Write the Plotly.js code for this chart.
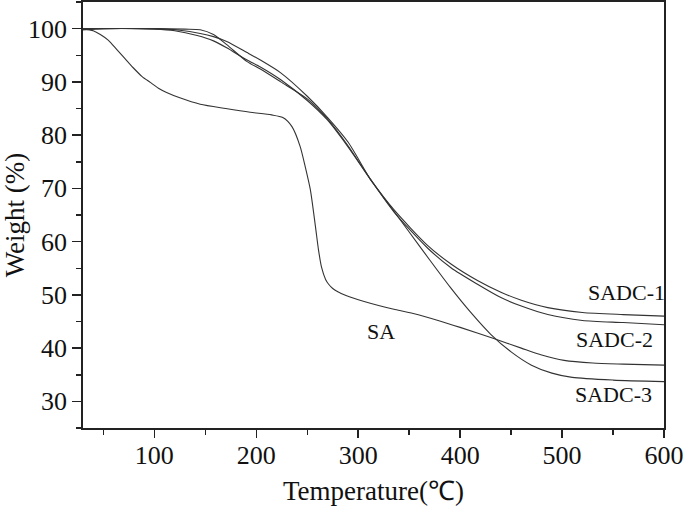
<!DOCTYPE html>
<html>
<head>
<meta charset="utf-8">
<script src="https://cdn.plot.ly/plotly-3.0.1.min.js"></script>
<style>html,body{margin:0;padding:0;background:#fff;}#chart{width:685px;height:512px;}</style>
</head>
<body>
<div id="chart"></div>
<script>
// SA
const saT = [30, 40, 47, 55, 63, 71, 79, 88, 96, 104, 112, 125, 145, 170, 194, 215, 226, 235, 243, 248, 253, 258, 261, 264, 268, 271, 275, 280, 288, 295, 305, 320, 335, 354, 380, 400, 433, 460, 480, 502, 530, 560, 600];
const saW = [100, 99.6, 98.9, 97.8, 96.1, 94.4, 92.7, 91.0, 89.9, 88.8, 88.0, 87.0, 85.8, 85.0, 84.3, 83.8, 83.3, 81.6, 77.9, 74.1, 69.8, 62.9, 58.5, 55.2, 52.9, 52.0, 51.2, 50.6, 49.9, 49.4, 48.8, 48.0, 47.3, 46.5, 45.1, 43.9, 41.8, 40.0, 38.7, 37.7, 37.2, 37.0, 36.8];
// SADC-1
const s1T = [30, 50, 100, 130, 145, 158, 171, 191, 204, 224, 250, 270, 290, 312, 335, 368, 391, 417, 440, 460, 486, 520, 560, 600];
const s1W = [99.8, 100, 100, 99.9, 99.8, 98.9, 97.0, 93.8, 92.4, 90.0, 86.8, 83.0, 78.0, 71.7, 66.0, 59.3, 55.8, 52.7, 50.5, 49.0, 47.6, 46.7, 46.3, 46.0];
// SADC-2
const s2T = [30, 50, 100, 120, 142, 158, 171, 191, 204, 224, 250, 270, 290, 312, 335, 368, 391, 417, 440, 460, 486, 520, 560, 600];
const s2W = [99.8, 100, 99.9, 99.6, 98.7, 97.7, 96.4, 94.1, 92.8, 90.4, 86.5, 82.8, 77.8, 71.7, 65.6, 58.8, 55.1, 52.0, 49.5, 47.9, 46.3, 45.2, 44.8, 44.4];
// SADC-3
const s3T = [30, 100, 125, 145, 158, 171, 191, 204, 224, 250, 270, 290, 312, 330, 350, 370, 390, 410, 430, 450, 470, 490, 510, 550, 600];
const s3W = [100, 100, 99.7, 99.1, 98.5, 97.6, 95.5, 94.1, 91.7, 87.3, 83.3, 78.7, 71.7, 67.0, 61.8, 56.6, 51.5, 46.8, 42.6, 39.3, 36.8, 35.3, 34.5, 34.0, 33.7];

const labels = ['SA', 'SADC-1', 'SADC-2', 'SADC-3'];
const labelT = [322, 563, 551, 550];
const labelW = [43.2, 50.5, 41.7, 31.3];

const lineStyle = {color: '#333', width: 1.1, shape: 'spline', smoothing: 0.7};
const series = [[saT, saW], [s1T, s1W], [s2T, s2W], [s3T, s3W]];
const traces = series.map((s, i) => ({
  x: s[0], y: s[1], type: 'scatter', mode: 'lines', name: labels[i], line: lineStyle, hoverinfo: 'skip'
}));

const font = {family: '"Liberation Serif", "Times New Roman", serif', color: '#111'};
const layout = {
  width: 685, height: 512,
  margin: {l: 83, r: 21, t: 2, b: 84},
  showlegend: false,
  paper_bgcolor: '#fff', plot_bgcolor: '#fff',
  font: Object.assign({size: 26}, font),
  xaxis: {
    range: [30, 600], tick0: 0, dtick: 100,
    showgrid: false, zeroline: false,
    showline: true, mirror: true, linecolor: '#222', linewidth: 1.8,
    ticks: 'outside', ticklen: 8, tickwidth: 1.5, tickcolor: '#222',
    ticklabelstandoff: -5,
    minor: {dtick: 50, tick0: 0, ticks: 'outside', ticklen: 5, tickwidth: 1.5, tickcolor: '#222', showgrid: false},
    tickfont: Object.assign({size: 26}, font),
    title: {text: 'Temperature(℃)', font: Object.assign({size: 27}, font), standoff: 12}
  },
  yaxis: {
    range: [25, 105], tick0: 0, dtick: 10,
    showgrid: false, zeroline: false,
    showline: true, mirror: true, linecolor: '#222', linewidth: 1.8,
    ticks: 'outside', ticklen: 9, tickwidth: 1.5, tickcolor: '#222',
    minor: {dtick: 5, tick0: 0, ticks: 'outside', ticklen: 5, tickwidth: 1.5, tickcolor: '#222', showgrid: false},
    tickfont: Object.assign({size: 26}, font),
    title: {text: 'Weight (%)', font: Object.assign({size: 27}, font), standoff: 6}
  },
  annotations: labels.map((t, i) => ({
    x: labelT[i], y: labelW[i], xref: 'x', yref: 'y', text: t, showarrow: false,
    font: Object.assign({size: 22}, font)
  }))
};
Plotly.newPlot('chart', traces, layout, {staticPlot: true, displayModeBar: false});
</script>
</body>
</html>
